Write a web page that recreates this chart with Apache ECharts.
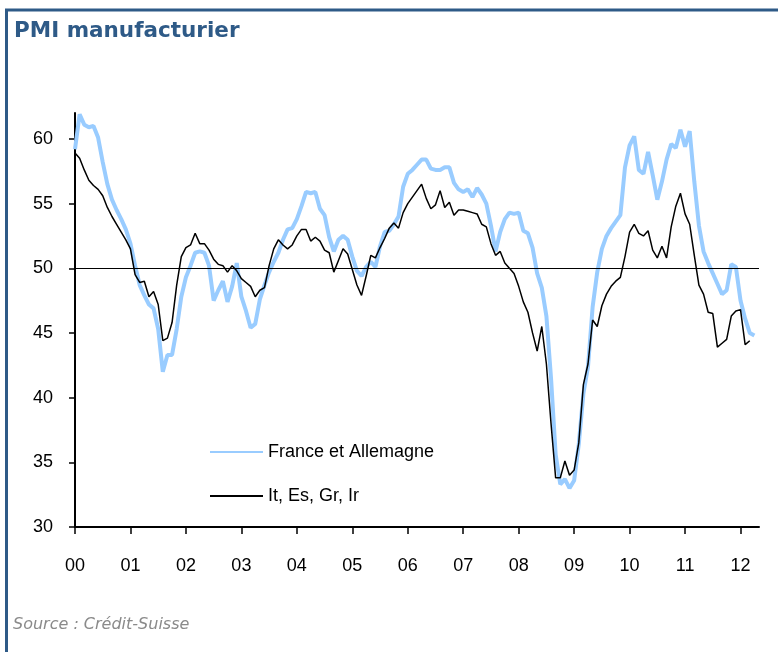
<!DOCTYPE html>
<html>
<head>
<meta charset="utf-8">
<title>PMI manufacturier</title>
<script src="https://cdn.jsdelivr.net/npm/echarts@6/dist/echarts.min.js"></script>
<style>
  html, body { margin: 0; padding: 0; background: #fff; }
  #chart { width: 778px; height: 652px; }
</style>
</head>
<body>
<div id="chart"></div>
<script>
// années (axe x), une valeur par mois à partir de janvier 2000
const yearLabels = ['00', '01', '02', '03', '04', '05', '06', '07', '08', '09', '10', '11', '12'];
const yTicks = [30, 35, 40, 45, 50, 55, 60];
const seuil = 50;

// France et Allemagne
const franceAllemagne = [
  59.2, 61.9, 61.1, 60.9, 61.0, 60.1, 58.2, 56.5, 55.3, 54.5, 53.8, 53.0,
  51.9, 50.2, 48.7, 47.9, 47.2, 46.9, 45.3, 42.0, 43.3, 43.3, 45.3, 47.8,
  49.3, 50.2, 51.2, 51.3, 51.2, 50.2, 47.5, 48.3, 49.0, 47.4, 48.6, 50.4,
  47.8, 46.7, 45.4, 45.7, 47.6, 48.7, 49.7, 50.5, 51.2, 52.2, 53.0, 53.1,
  53.8, 54.8, 55.9, 55.8, 55.9, 54.6, 54.1, 52.4, 51.3, 52.2, 52.5, 52.2,
  50.9, 49.8, 49.4, 50.1, 50.5, 50.1, 51.7, 52.8, 52.9, 53.4, 54.0, 56.3,
  57.3, 57.6, 58.0, 58.4, 58.4, 57.7, 57.6, 57.6, 57.8, 57.8, 56.6, 56.1,
  55.9, 56.1, 55.5, 56.2, 55.7, 55.0, 53.3, 51.3, 52.8, 53.8, 54.3, 54.2,
  54.3, 52.9, 52.7, 51.6, 49.6, 48.5, 46.3, 41.5, 35.6, 33.3, 33.7, 33.0,
  33.6, 36.4, 40.3, 42.4, 47.0, 49.7, 51.5, 52.5, 53.1, 53.6, 54.1, 57.8,
  59.5, 60.2, 57.6, 57.3, 59.0, 57.2, 55.3, 56.7, 58.4, 59.6, 59.3, 60.7,
  59.4, 60.6, 56.7, 53.3, 51.3, 50.4, 49.6, 48.8, 48.0, 48.3, 50.3, 50.1,
  47.5, 46.1, 45.0, 44.8
];

// It, Es, Gr, Ir
const itEsGrIr = [
  58.9, 58.5, 57.6, 56.8, 56.4, 56.1, 55.6, 54.7, 54.0, 53.4, 52.8, 52.2,
  51.5, 49.5, 48.9, 49.0, 47.8, 48.2, 47.2, 44.4, 44.6, 45.8, 48.7, 50.9,
  51.6, 51.8, 52.7, 51.9, 51.9, 51.4, 50.7, 50.3, 50.2, 49.7, 50.2, 49.8,
  49.2, 48.9, 48.6, 47.8, 48.3, 48.5, 50.2, 51.5, 52.2, 51.8, 51.5, 51.8,
  52.5, 53.0, 53.0, 52.1, 52.4, 52.1, 51.4, 51.2, 49.7, 50.6, 51.5, 51.1,
  49.9, 48.7, 47.9, 49.4, 51.0, 50.8, 51.6, 52.3, 53.1, 53.5, 53.1, 54.3,
  55.0, 55.5, 56.0, 56.5, 55.4, 54.6, 54.9, 56.0, 54.7, 55.1, 54.1, 54.5,
  54.5, 54.4, 54.3, 54.2, 53.4, 53.2, 51.9, 51.0, 51.3, 50.4, 50.0, 49.6,
  48.6, 47.4, 46.6, 45.0, 43.6, 45.5, 42.6, 38.0, 33.8, 33.8, 35.1, 34.0,
  34.4, 36.5, 41.0, 42.6, 46.0, 45.5, 47.1, 48.0, 48.6, 49.0, 49.3, 50.9,
  52.8, 53.4, 52.7, 52.5, 52.9, 51.4, 50.8, 51.7, 50.8, 53.2, 54.8, 55.8,
  54.2, 53.4, 51.0, 48.7, 48.0, 46.6, 46.5, 43.9, 44.2, 44.5, 46.3, 46.7,
  46.8, 44.1, 44.4
];

const yearTicks = yearLabels.map((_, i) => i * 12);
const toPoints = arr => arr.map((v, i) => [i, v]);
const axisFont = { fontFamily: 'Liberation Sans, Arial, sans-serif', fontSize: 18, color: '#000' };

const chart = echarts.init(document.getElementById('chart'));
chart.setOption({
  animation: false,
  title: [{
    text: 'PMI manufacturier',
    left: 9,
    top: 15,
    textStyle: { fontFamily: 'DejaVu Sans, Verdana, sans-serif', fontWeight: 'bold', fontSize: 21.5, color: '#2e5a87' }
  }, {
    text: 'Source : Crédit-Suisse',
    left: 8,
    top: 612,
    textStyle: { fontFamily: 'DejaVu Sans, Verdana, sans-serif', fontStyle: 'italic', fontWeight: 'normal', fontSize: 16, color: '#8a8a8a' }
  }],
  graphic: [{
    type: 'polyline',
    shape: { points: [[6.5, 652], [6.5, 10], [778, 10]] },
    style: { stroke: '#2e5a87', lineWidth: 3, fill: null },
    silent: true
  }],
  legend: {
    orient: 'vertical',
    left: 204,
    top: 438,
    itemWidth: 53,
    itemHeight: 14,
    itemGap: 26,
    itemStyle: { opacity: 0 },
    textStyle: axisFont,
    data: ['France et Allemagne', 'It, Es, Gr, Ir']
  },
  grid: { left: 75, right: 19, top: 113, bottom: 125, containLabel: false },
  xAxis: {
    type: 'value',
    min: 0,
    max: 148,
    splitLine: { show: false },
    axisLine: { lineStyle: { color: '#000', width: 2 } },
    axisTick: { customValues: yearTicks, length: 7, lineStyle: { color: '#000', width: 1.5 } },
    axisLabel: {
      customValues: yearTicks,
      formatter: v => yearLabels[Math.round(v / 12)],
      margin: 30,
      ...axisFont
    }
  },
  yAxis: {
    type: 'value',
    min: 30,
    max: 62,
    splitLine: { show: false },
    axisLine: { show: true, lineStyle: { color: '#000', width: 2 } },
    axisTick: { show: true, customValues: yTicks, length: 6, lineStyle: { color: '#000', width: 1.5 } },
    axisLabel: { customValues: yTicks, margin: 22, ...axisFont }
  },
  series: [{
    name: 'France et Allemagne',
    type: 'line',
    symbol: 'none',
    data: toPoints(franceAllemagne),
    lineStyle: { color: '#99ccff', width: 4 },
    itemStyle: { color: '#99ccff' },
    z: 2,
    markLine: {
      silent: true,
      symbol: 'none',
      label: { show: false },
      lineStyle: { color: '#000', width: 1, type: 'solid' },
      data: [{ yAxis: seuil }]
    }
  }, {
    name: 'It, Es, Gr, Ir',
    type: 'line',
    symbol: 'none',
    data: toPoints(itEsGrIr),
    lineStyle: { color: '#000', width: 1.5 },
    itemStyle: { color: '#000' },
    z: 3
  }]
});
</script>
</body>
</html>
